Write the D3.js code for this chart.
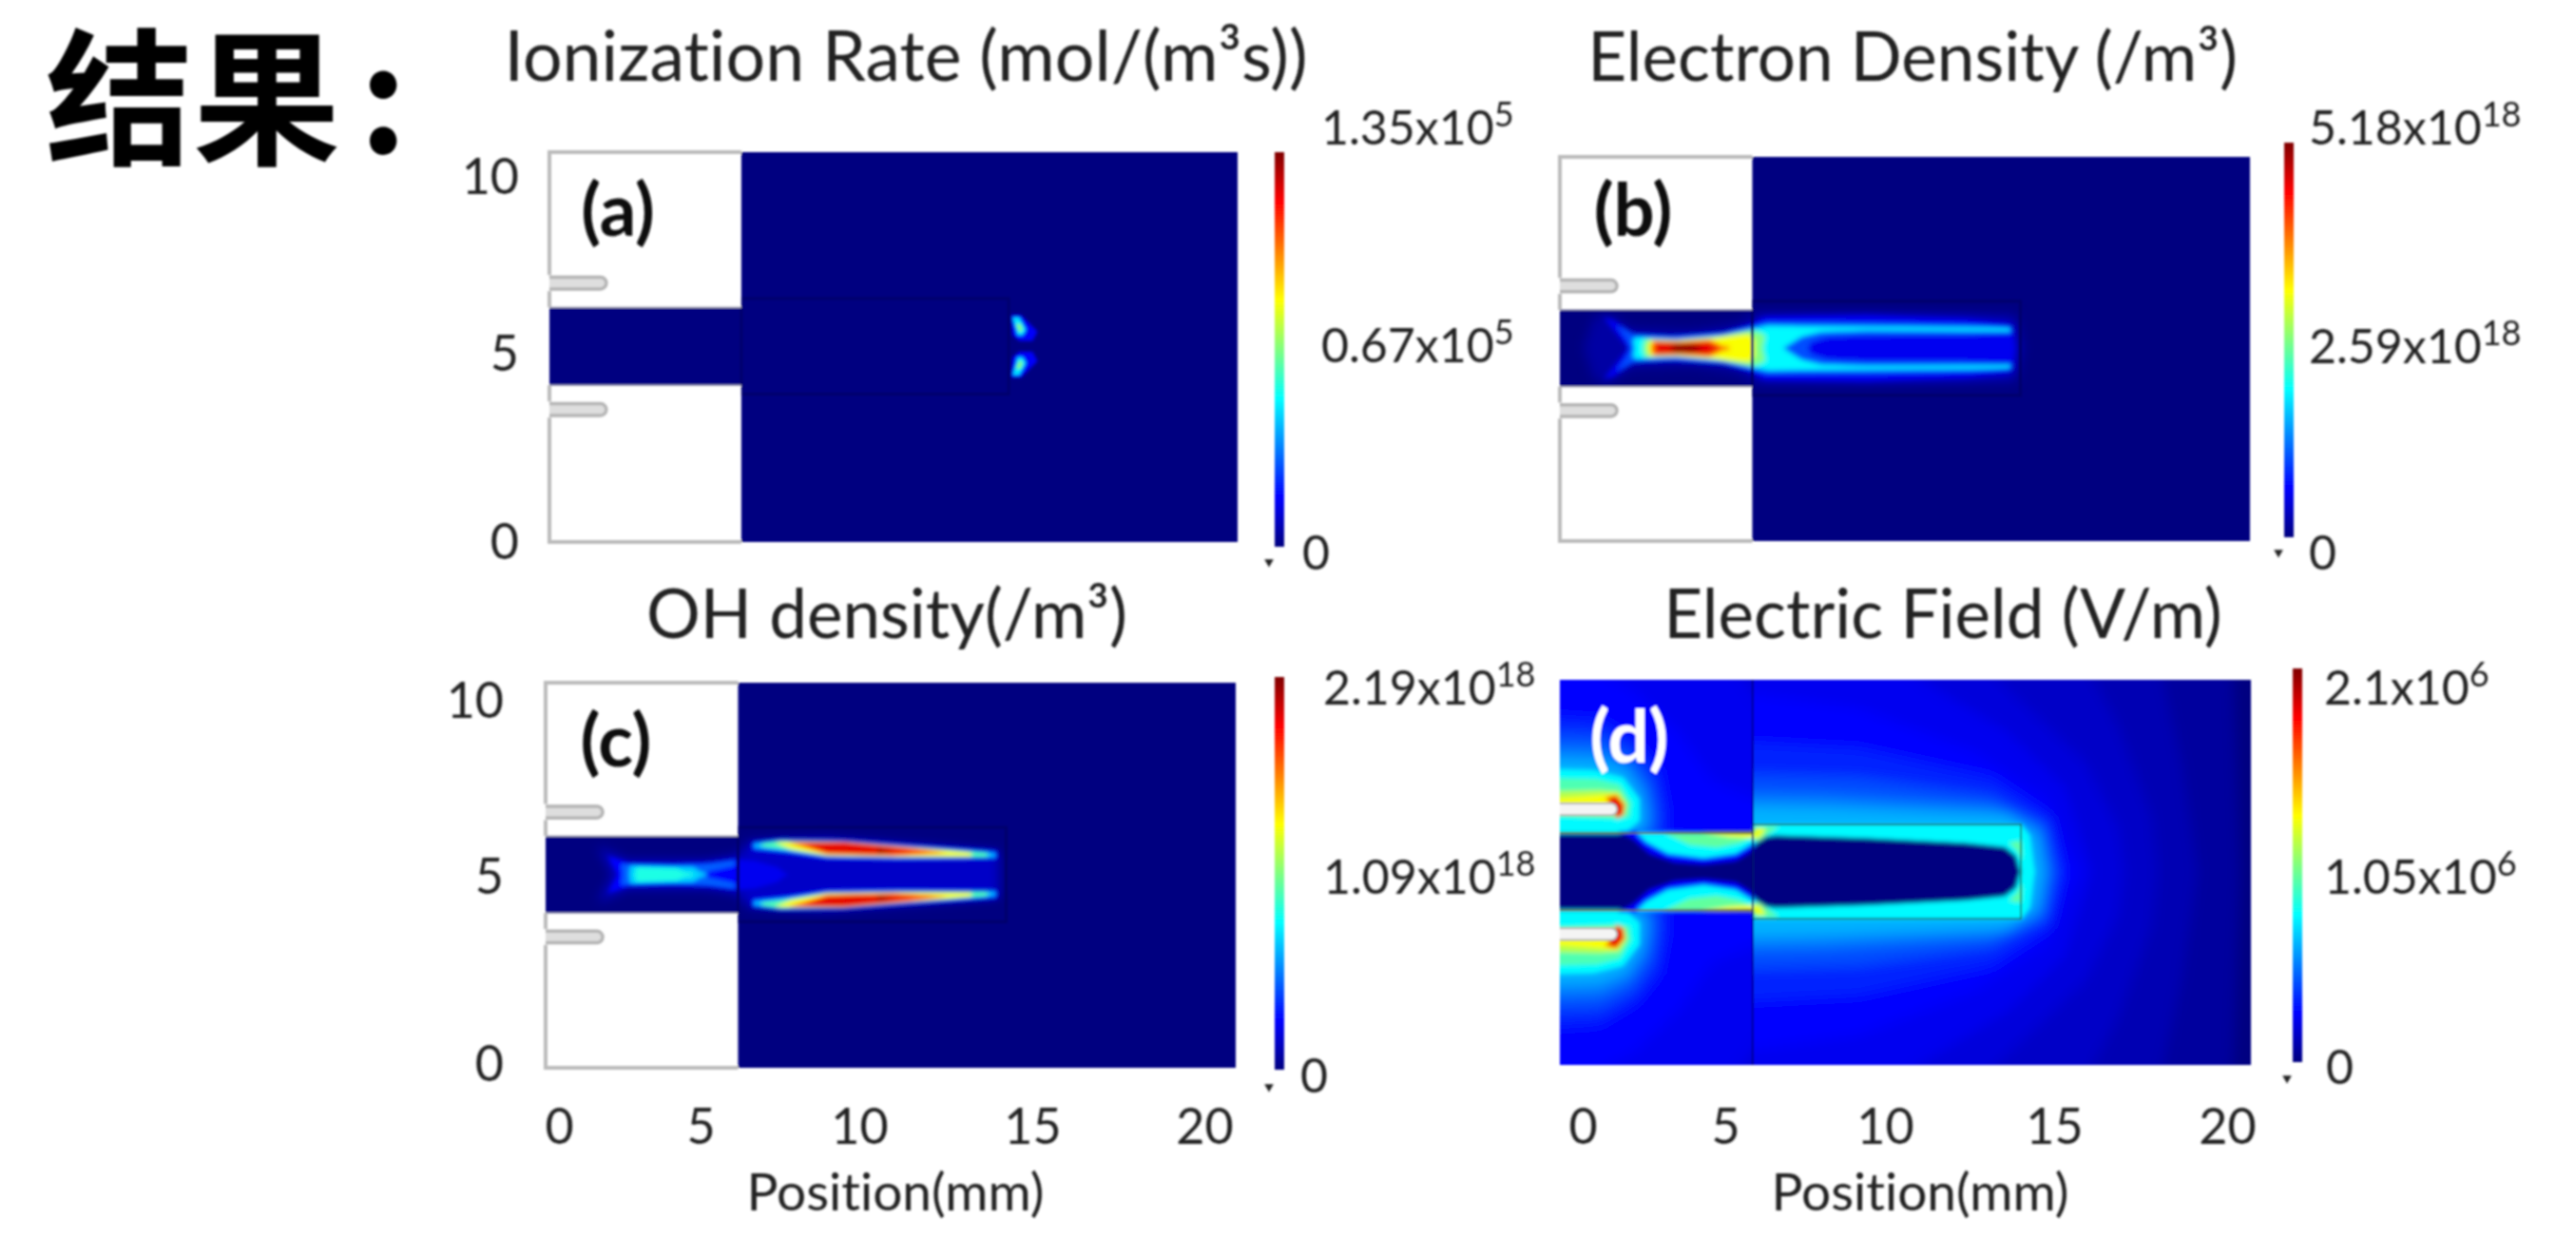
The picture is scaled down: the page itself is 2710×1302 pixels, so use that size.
<!DOCTYPE html>
<html>
<head>
<meta charset="utf-8">
<script src="https://cdn.jsdelivr.net/npm/d3@7"></script>
<style>
  html, body { margin: 0; background: #fff; }
  #chart { position: relative; width: 2710px; height: 1302px; overflow: hidden; }
  text { font-family: Lato, "Noto Sans", sans-serif; fill: #222; font-variant-ligatures: none; }
</style>
</head>
<body>
<div id="chart"></div>
<script>
// colour table (COMSOL rainbow)
const jetStops = [0, 0.125, 0.375, 0.625, 0.875, 1];
const jetColors = ['#000080', '#0000ff', '#00ffff', '#ffff00', '#ff0000', '#800000'];

// device geometry in mm
const xTicks = [0, 5, 10, 15, 20];
const yTicks = [0, 5, 10];
const xDomain = [0, 20.8];
const yDomain = [0, 10.6];
const axisY = 5.32;
const channelEnd = 5.8;
const channelHalf = 1.06;
const boxEnd = 13.88;
const boxHalf = 1.3;
const electrodeOffset = 1.72;
const electrodeTip = 1.72;
const electrodeHalf = 0.16;

// colourbar labels [value, mantissa, exponent]
const ionBar = [[0, '0', ''], [0.67, '0.67x10', '5'], [1.35, '1.35x10', '5']];
const electronBar = [[0, '0', ''], [2.59, '2.59x10', '18'], [5.18, '5.18x10', '18']];
const ohBar = [[0, '0', ''], [1.09, '1.09x10', '18'], [2.19, '2.19x10', '18']];
const fieldBar = [[0, '0', ''], [1.05, '1.05x10', '6'], [2.1, '2.1x10', '6']];

// iso-level outlines, upper half: [x mm, distance from axis mm]. Mirrored when drawn.
const ionLevels = [
    [0.12, [[13.95, .85], [14.25, .85], [14.75, .4], [14.6, .15], [14.2, .15], [14.0, .3]]],
    [0.35, [[14.0, .78], [14.2, .78], [14.4, .45], [14.3, .3], [14.15, .3], [14.1, .5]]],
    [0.5, [[14.1, .6], [14.25, .6], [14.3, .42], [14.2, .4]]]
];

const electronGlow = [
    [0.035, [[0.7, 0], [1.0, .8], [1.4, 1.0], [2.2, .55], [4, .5], [5.4, .7], [5.8, .95], [13.75, .95], [14, 0]]],
    [0.1, [[6.0, .85], [9.26, .9], [12.22, .82], [13.65, .68], [13.7, 0], [6.0, 0]]]
];

const electronLevels = [
    [0.11, [[2.1, 0], [1.31, .85], [1.61, .79], [2.2, .42], [3.34, .36], [4.92, .45], [5.71, .66], [6.2, .85], [9.26, .89], [12.22, .79], [13.6, .63], [13.7, 0]]],
    [0.2, [[2.15, 0], [1.95, .32], [1.71, .63], [1.81, .59], [2.35, .36], [3.53, .32], [4.92, .42], [5.71, .58], [6.2, .72], [9.26, .71], [12.22, .66], [13.6, .6], [13.65, .42], [12.22, .36], [9.26, .35], [8.08, .3], [7.58, .17], [7.43, 0]]],
    [0.37, [[2.27, 0], [2.2, .24], [2.35, .3], [3.53, .25], [4.92, .36], [5.76, .52], [6.3, .62], [7.29, .6], [9.26, .59], [12.22, .57], [13.6, .56], [13.6, .47], [12.22, .48], [9.26, .49], [7.88, .45], [7.29, .32], [6.64, 0]]],
    [0.5, [[2.5, 0], [2.55, .25], [3.53, .23], [4.72, .32], [5.71, .49], [5.95, .46], [6.2, .35], [6.1, 0]]],
    [0.62, [[2.64, 0], [2.7, .22], [3.53, .21], [4.62, .28], [5.71, .39], [5.88, .2], [5.85, 0]]],
    [0.8, [[2.75, 0], [2.8, .2], [3.63, .18], [4.52, .23], [5.15, 0]]],
    [0.9, [[2.9, 0], [2.95, .17], [3.73, .15], [4.45, .17], [4.8, 0]]],
    [0.99, [[3.3, 0], [3.5, .11], [4.03, .1], [4.3, 0]]]
];

const ohGlow = [
    [0.07, [[2.07, 0], [1.57, .77], [2.46, .38], [4.83, .38], [5.77, .51], [6.11, .9], [8.48, .99], [13.62, .64], [13.67, .42], [13.67, 0]]]
];

const ohLevels = [
    [0.11, [[5.72, .42], [6.31, .38], [7.0, .2], [7.3, 0], [5.72, 0]]],
    [0.13, [[2.21, 0], [1.87, .51], [2.51, .32], [3.84, .3], [4.93, .34], [5.72, .44], [5.72, 0]]],
    [0.22, [[2.33, 0], [2.28, .29], [2.76, .27], [3.84, .25], [4.93, .31], [5.7, .4], [5.7, .24], [4.93, .09], [4.63, 0]]],
    [0.33, [[2.52, 0], [2.55, .25], [3.84, .22], [4.44, .2], [4.88, 0]]],
    [0.4, [[2.68, 0], [2.74, .21], [3.94, .17], [4.5, 0]]],
    [0.13, [[6.21, .9], [7.1, .99], [8.98, .96], [10.95, .83], [13.62, .66], [13.62, .42], [10.56, .4], [8.48, .42], [7.3, .57], [6.21, .66]]],
    [0.3, [[6.26, .87], [7.1, .95], [8.98, .93], [10.95, .78], [13.57, .6], [13.57, .45], [10.56, .44], [8.48, .48], [7.3, .63], [6.26, .72]]],
    [0.45, [[6.51, .86], [7.1, .94], [8.98, .92], [10.95, .77], [13.32, .6], [13.32, .48], [10.56, .47], [8.48, .5], [7.3, .68], [6.51, .77]]],
    [0.62, [[6.9, .89], [8.98, .91], [10.95, .75], [12.83, .6], [12.83, .5], [10.56, .49], [8.48, .52], [7.4, .7]]],
    [0.8, [[7.3, .89], [8.98, .9], [10.95, .74], [12.1, .6], [10.46, .51], [8.48, .56]]],
    [0.9, [[7.8, .87], [8.98, .88], [10.3, .77], [11.1, .62], [9.47, .57], [8.5, .6]]],
    [0.97, [[10.0, .72], [10.5, .63], [10.0, .58]]]
];

// electric field: smooth far field right and left of the x = 5.8 interface
const efieldRightLevels = [
    [0.03, [[5, 8], [20.0, 8], [20.3, 5], [20.5, 0], [5, 0]]],
    [0.05, [[5, 8], [17.5, 8], [18.7, 3], [19.2, 0], [5, 0]]],
    [0.07, [[5, 8], [14.5, 8], [16.8, 4], [17.8, 1.5], [18, 0], [5, 0]]],
    [0.09, [[5, 8], [10, 8], [13.5, 5], [15.8, 3], [16.8, 1.2], [17, 0], [5, 0]]],
    [0.11, [[5, 8], [7, 8], [11, 5.2], [13.5, 3.8], [15.2, 2.3], [16, 0], [5, 0]]],
    [0.125, [[5, 5], [9, 4.5], [12.5, 3.3], [14.6, 2.0], [15.6, 0], [5, 0]]],
    [0.16, [[5, 3.6], [9, 3.4], [13, 2.6], [14.8, 1.5], [15.2, 0], [5, 0]]],
    [0.2, [[5, 2.7], [9, 2.6], [13, 2.1], [14.6, 1.3], [14.95, 0], [5, 0]]],
    [0.25, [[5, 2.15], [8, 2.1], [13, 1.8], [14.5, 1.2], [14.75, 0], [5, 0]]],
    [0.3, [[5, 1.8], [8, 1.75], [13.5, 1.55], [14.35, 1], [14.55, 0], [5, 0]]]
];

const efieldLeftLevels = [
    [0.09, [[-2, 8], [7, 8], [7, 0], [-2, 0]]],
    [0.11, [[-2, 8], [3.5, 8], [7, 3.3], [7, 0], [-2, 0]]],
    [0.125, [[-2, 8], [0.5, 5.8], [2.2, 5.0], [3.6, 3.8], [4.6, 2.5], [7, 1.6], [7, 0], [-2, 0]]],
    [0.16, [[-2, 4.4], [1.2, 4.2], [2.3, 3.6], [3.0, 2.8], [3.2, 1.8], [3.2, 1], [-2, 1]]],
    [0.2, [[-2, 3.9], [1.2, 3.8], [2.2, 3.3], [2.8, 2.5], [2.95, 1.7], [2.95, 1], [-2, 1]]],
    [0.25, [[-2, 3.5], [1.2, 3.4], [2.1, 3.0], [2.6, 2.3], [2.75, 1.6], [2.7, 1.05], [-2, 1.05]]],
    [0.3, [[-2, 3.15], [1.2, 3.05], [2.0, 2.75], [2.45, 2.1], [2.55, 1.5], [2.4, 1.05], [-2, 1.05]]]
];

const efieldNearLevels = [
    // round the electrodes
    [0.37, [[-1, 2.85], [1.0, 2.8], [1.9, 2.6], [2.4, 2.0], [2.4, 1.4], [2.0, 1.1], [1.8, 1.05], [-1, 1.05]]],
    [0.45, [[-1, 2.6], [1.1, 2.55], [1.8, 2.4], [2.15, 1.9], [2.1, 1.5], [1.8, 1.45], [-1, 1.55]]],
    [0.55, [[-1, 2.2], [1.2, 2.25], [1.8, 2.2], [2.02, 1.85], [1.95, 1.58], [1.6, 1.55], [-1, 1.6]]],
    [0.62, [[-1, 1.95], [1.2, 2.1], [1.7, 2.15], [1.95, 1.85], [1.9, 1.6], [1.7, 1.55], [1.0, 1.85], [-1, 1.85]]],
    [0.75, [[1.35, 2.05], [1.7, 2.12], [1.96, 1.85], [1.92, 1.55], [1.7, 1.46], [1.5, 1.9]]],
    [0.9, [[1.45, 2.0], [1.7, 2.06], [1.9, 1.8], [1.86, 1.58], [1.72, 1.5], [1.55, 1.7]]],
    // channel: dark core with the sheath lens against the wall
    [0, [[-1, 0], [-1, 1.06], [5.84, 1.06], [5.84, 0]]],
    [0.13, [[1.75, 1.12], [2.2, .9], [2.7, .5], [3.45, .26], [4.33, .2], [5.3, .3], [5.8, .58], [6.0, .87], [5.8, 1.08]]],
    [0.37, [[2.3, 1.08], [2.6, .82], [3.25, .5], [4.33, .37], [5.3, .5], [5.8, .78], [5.9, 1.08]]],
    [0.47, [[3.1, 1.08], [3.9, .74], [4.72, .66], [5.4, .78], [5.8, .95], [5.8, 1.08]]],
    [0.62, [[4.2, 1.08], [5.1, .96], [5.84, .92], [5.84, 1.08]]],
    // box: sheath band, hot corners, dark core
    [0.37, [[5.84, 1.3], [13.9, 1.3], [14.15, 1.0], [14.3, 0], [5.84, 0]]],
    [0.47, [[5.84, 1.25], [6.6, 1.25], [6.3, 1.05], [6.0, .85], [5.84, .85]]],
    [0.47, [[13.88, .85], [13.5, .8], [13.75, .6], [13.92, .3]]],
    [0.6, [[5.84, 1.2], [6.2, 1.2], [6.05, .95], [5.84, .9]]],
    [0, [[5.6, 0], [5.6, .25], [5.9, .79], [6.2, .96], [6.49, 1.0], [9.25, .92], [12.2, .79], [13.39, .68], [13.73, .44], [13.88, 0]]],
    [0, [[-1, 0], [-1, .2], [6, .2], [6, 0]]]
];

// page layout in pixels
const panels = [
    { name: '(a)', layers: [{ levels: ionLevels, blur: 1.7 }], bar: ionBar,
      left: 578, right: 1302, top: 160, bottom: 570,
      title: 'Ionization Rate (mol/(m³s))', titleX: 953, titleY: 85, titleSize: 73.5,
      tagX: 650, tagY: 248, yLabels: { x: 546, y: [587, 389, 203] },
      barX: 1346, barTop: 160, barBottom: 575, markY: 591,
      barLabelX: 1390, zeroX: 1370, barLabelY: [599, 381, 152] },
    { name: '(b)', layers: [{ levels: electronGlow, blur: 6 }, { levels: electronLevels, blur: 2.4 }], bar: electronBar,
      left: 1641, right: 2367, top: 165, bottom: 569,
      title: 'Electron Density (/m³)', titleX: 2012, titleY: 85, titleSize: 71,
      tagX: 1718, tagY: 248,
      barX: 2408, barTop: 150, barBottom: 565, markY: 581,
      barLabelX: 2429, zeroX: 2429, barLabelY: [599, 382, 152] },
    { name: '(c)', layers: [{ levels: ohGlow, blur: 6 }, { levels: ohLevels, blur: 2.2 }], bar: ohBar,
      left: 574, right: 1300, top: 718, bottom: 1123,
      title: 'OH density(/m³)', titleX: 933, titleY: 671, titleSize: 71,
      tagX: 648, tagY: 806, yLabels: { x: 530, y: [1136, 939, 754] },
      xLabels: { y: 1203, x: [588, 737, 904, 1086, 1267], caption: 942 },
      barX: 1346, barTop: 712, barBottom: 1125, markY: 1143,
      barLabelX: 1392, zeroX: 1368, barLabelY: [1149, 940, 741] },
    { name: '(d)', solid: true, bar: fieldBar,
      layers: [
          { levels: efieldRightLevels, blur: 7, from: channelEnd + 0.04, to: xDomain[1] + 1 },
          { levels: efieldLeftLevels, blur: 7, from: -1, to: channelEnd + 0.04 },
          { levels: efieldNearLevels, blur: 2 }
      ],
      left: 1641, right: 2368, top: 715, bottom: 1120,
      title: 'Electric Field (V/m)', titleX: 2044, titleY: 671, titleSize: 71,
      tagX: 1714, tagY: 802, tagFill: '#fff',
      xLabels: { y: 1203, x: [1665, 1815, 1983, 2161, 2343], caption: 2020 },
      barX: 2417, barTop: 703, barBottom: 1117, markY: 1134,
      barLabelX: 2445, zeroX: 2447, barLabelY: [1140, 940, 741] }
];

const jet = d3.scaleLinear().domain(jetStops).range(jetColors);

const heading = d3.select('#chart').append('div')
    .style('position', 'absolute')
    .style('left', '48px')
    .style('top', '16px')
    .style('line-height', '155px')
    .style('font-family', '"Noto Sans CJK SC"')
    .style('font-weight', 700)
    .style('font-size', '155px')
    .style('color', '#000')
    .style('filter', 'blur(1px)')
    .text('结果');
heading.append('span')
    .style('margin-left', '20px')
    .text(':');

const svg = d3.select('#chart').append('svg')
    .attr('width', 2710)
    .attr('height', 1302)
    .style('display', 'block');

const defs = svg.append('defs');

defs.append('filter').attr('id', 'softBlur')
    .attr('filterUnits', 'userSpaceOnUse')
    .attr('x', 0).attr('y', 0).attr('width', 2710).attr('height', 1302)
    .append('feGaussianBlur').attr('stdDeviation', 0.9);

const barGradient = defs.append('linearGradient').attr('id', 'barGradient')
    .attr('x1', 0).attr('x2', 0).attr('y1', 1).attr('y2', 0);
jetStops.forEach((s, i) => {
    barGradient.append('stop').attr('offset', s).attr('stop-color', jetColors[i]);
});

const page = svg.append('g').attr('filter', 'url(#softBlur)');

panels.forEach((p, i) => drawPanel(p, i));

function drawPanel(p, i) {
    const g = page.append('g');
    const x = d3.scaleLinear().domain(xDomain).range([p.left, p.right]);
    const y = d3.scaleLinear().domain(yDomain).range([p.bottom, p.top]);

    // where the field exists: everything right of the housing plus the channel
    const clipId = 'fieldClip' + i;
    const clip = defs.append('clipPath').attr('id', clipId);
    const wallX = p.solid ? 0 : channelEnd;
    clip.append('rect')
        .attr('x', x(wallX)).attr('y', p.top)
        .attr('width', p.right - x(wallX)).attr('height', p.bottom - p.top);
    clip.append('rect')
        .attr('x', p.left).attr('y', y(axisY + channelHalf))
        .attr('width', x(channelEnd) - p.left).attr('height', y(axisY - channelHalf) - y(axisY + channelHalf));

    const field = g.append('g').attr('clip-path', 'url(#' + clipId + ')');
    field.append('rect')
        .attr('x', p.left).attr('y', p.top)
        .attr('width', p.right - p.left).attr('height', p.bottom - p.top)
        .attr('fill', jet(0));

    p.layers.forEach((layer, k) => {
        const blurId = 'blur' + i + '_' + k;
        defs.append('filter').attr('id', blurId)
            .attr('filterUnits', 'userSpaceOnUse')
            .attr('x', p.left - 150).attr('y', p.top - 150)
            .attr('width', p.right - p.left + 300).attr('height', p.bottom - p.top + 300)
            .append('feGaussianBlur').attr('stdDeviation', layer.blur);

        let holder = field;
        if (layer.from !== undefined) {
            const rangeId = 'rangeClip' + i + '_' + k;
            defs.append('clipPath').attr('id', rangeId).append('rect')
                .attr('x', x(layer.from)).attr('y', p.top - 10)
                .attr('width', x(layer.to) - x(layer.from)).attr('height', p.bottom - p.top + 20);
            holder = field.append('g').attr('clip-path', 'url(#' + rangeId + ')');
        }
        const blurred = holder.append('g').attr('filter', 'url(#' + blurId + ')');

        // mirrored halves overlap a little on the axis so no seam shows
        const line = d3.line()
            .x(d => x(d[0]))
            .y(d => y(axisY + d[2] * (d[1] === 0 ? -0.05 : d[1])))
            .curve(d3.curveLinearClosed);
        layer.levels.forEach(level => {
            [1, -1].forEach(side => {
                blurred.append('path')
                    .attr('d', line(level[1].map(d => [d[0], d[1], side])))
                    .attr('fill', jet(level[0]));
            });
        });
    });

    // dark outlines of the inner box and of the wall
    field.append('rect')
        .attr('x', x(channelEnd)).attr('y', y(axisY + boxHalf))
        .attr('width', x(boxEnd) - x(channelEnd)).attr('height', y(axisY - boxHalf) - y(axisY + boxHalf))
        .attr('fill', 'none')
        .attr('stroke', p.solid ? '#1c6a5c' : '#00006c')
        .attr('stroke-width', p.solid ? 1.5 : 3);
    if (p.solid) {
        field.append('line')
            .attr('x1', x(channelEnd)).attr('x2', x(channelEnd))
            .attr('y1', p.top).attr('y2', p.bottom)
            .attr('stroke', '#00006e').attr('stroke-width', 1.5);
        [1, -1].forEach(side => {
            field.append('line')
                .attr('x1', p.left).attr('x2', x(channelEnd))
                .attr('y1', y(axisY + side * channelHalf)).attr('y2', y(axisY + side * channelHalf))
                .attr('stroke', '#6b6a12').attr('stroke-width', 1.5);
        });
    } else {
        drawHousing(g, x, y, p);
    }
    drawElectrodes(g, x, y, p);

    // colourbar
    g.append('rect')
        .attr('x', p.barX - 5).attr('y', p.barTop)
        .attr('width', 10).attr('height', p.barBottom - p.barTop)
        .attr('fill', 'url(#barGradient)');
    g.append('path')
        .attr('d', d3.symbol().type(d3.symbolTriangle).size(40))
        .attr('transform', 'translate(' + (p.barX - 11) + ',' + p.markY + ') rotate(180)')
        .attr('fill', '#222');

    const barLabelY = d3.scaleLinear().domain(p.bar.map(d => d[0])).range(p.barLabelY);
    p.bar.forEach(d => {
        const t = g.append('text')
            .attr('x', d[0] === 0 ? p.zeroX : p.barLabelX)
            .attr('y', barLabelY(d[0]))
            .style('font-size', '50px')
            .text(d[1]);
        if (d[2]) {
            t.append('tspan')
                .attr('dy', -19)
                .style('font-size', '36px')
                .text(d[2]);
        }
    });

    // text
    g.append('text')
        .attr('x', p.titleX).attr('y', p.titleY)
        .attr('text-anchor', 'middle')
        .style('font-size', p.titleSize + 'px')
        .text(p.title);

    g.append('text')
        .attr('x', p.tagX).attr('y', p.tagY)
        .attr('text-anchor', 'middle')
        .style('font-size', '76px')
        .style('font-weight', 700)
        .style('fill', p.tagFill || '#111')
        .text(p.name);

    if (p.yLabels) {
        const labelY = d3.scaleLinear().domain(yTicks).range(p.yLabels.y);
        const yAxis = g.append('g')
            .attr('transform', 'translate(' + p.yLabels.x + ',0)')
            .call(d3.axisLeft(labelY).tickValues(yTicks).tickSize(0).tickPadding(0));
        yAxis.select('.domain').remove();
        yAxis.selectAll('text').attr('dy', 0).style('font-size', '52px').style('font-family', 'Lato');
    }

    if (p.xLabels) {
        const labelX = d3.scaleLinear().domain(xTicks).range(p.xLabels.x);
        const xAxis = g.append('g')
            .attr('transform', 'translate(0,' + p.xLabels.y + ')')
            .call(d3.axisBottom(labelX).tickValues(xTicks).tickSize(0).tickPadding(0));
        xAxis.select('.domain').remove();
        xAxis.selectAll('text').attr('dy', 0).attr('y', 0).style('font-size', '52px').style('font-family', 'Lato');

        g.append('text')
            .attr('x', p.xLabels.caption).attr('y', 1273)
            .attr('text-anchor', 'middle')
            .style('font-size', '55px')
            .text('Position(mm)');
    }
}

function drawHousing(g, x, y, p) {
    const upper = axisY + channelHalf;
    const lower = axisY - channelHalf;
    const top = yDomain[1];
    const above = axisY + electrodeOffset;
    const below = axisY - electrodeOffset;
    const gap = electrodeHalf + 0.06;
    const outer = [
        [[channelEnd, top], [0, top], [0, above + gap]],
        [[0, above - gap], [0, upper]],
        [[0, lower], [0, below + gap]],
        [[0, below - gap], [0, 0], [channelEnd, 0]]
    ];
    const walls = [
        [[0, upper], [channelEnd, upper]],
        [[0, lower], [channelEnd, lower]]
    ];
    const line = d3.line().x(d => x(d[0])).y(d => y(d[1]));
    g.append('g').selectAll('path')
        .data(outer)
        .enter()
        .append('path')
        .attr('d', line)
        .attr('fill', 'none')
        .attr('stroke', '#bbb')
        .attr('stroke-width', 4);
    g.append('g').selectAll('path')
        .data(walls)
        .enter()
        .append('path')
        .attr('d', line)
        .attr('fill', 'none')
        .attr('stroke', '#aab')
        .attr('stroke-width', 1.5);
}

function drawElectrodes(g, x, y, p) {
    const tipX = x(electrodeTip);
    [1, -1].forEach(side => {
        const y0 = y(axisY + side * electrodeOffset + electrodeHalf);
        const y1 = y(axisY + side * electrodeOffset - electrodeHalf);
        const r = (y1 - y0) / 2;
        const shape = d3.path();
        shape.moveTo(p.left, y0);
        shape.lineTo(tipX - r, y0);
        shape.arc(tipX - r, y0 + r, r, -Math.PI / 2, Math.PI / 2);
        shape.lineTo(p.left, y1);
        g.append('path')
            .attr('d', shape.toString())
            .attr('fill', p.solid ? '#f4f4f4' : '#dedede')
            .attr('stroke', '#b4b4b4')
            .attr('stroke-width', p.solid ? 2 : 3.5);
    });
}
</script>
</body>
</html>
